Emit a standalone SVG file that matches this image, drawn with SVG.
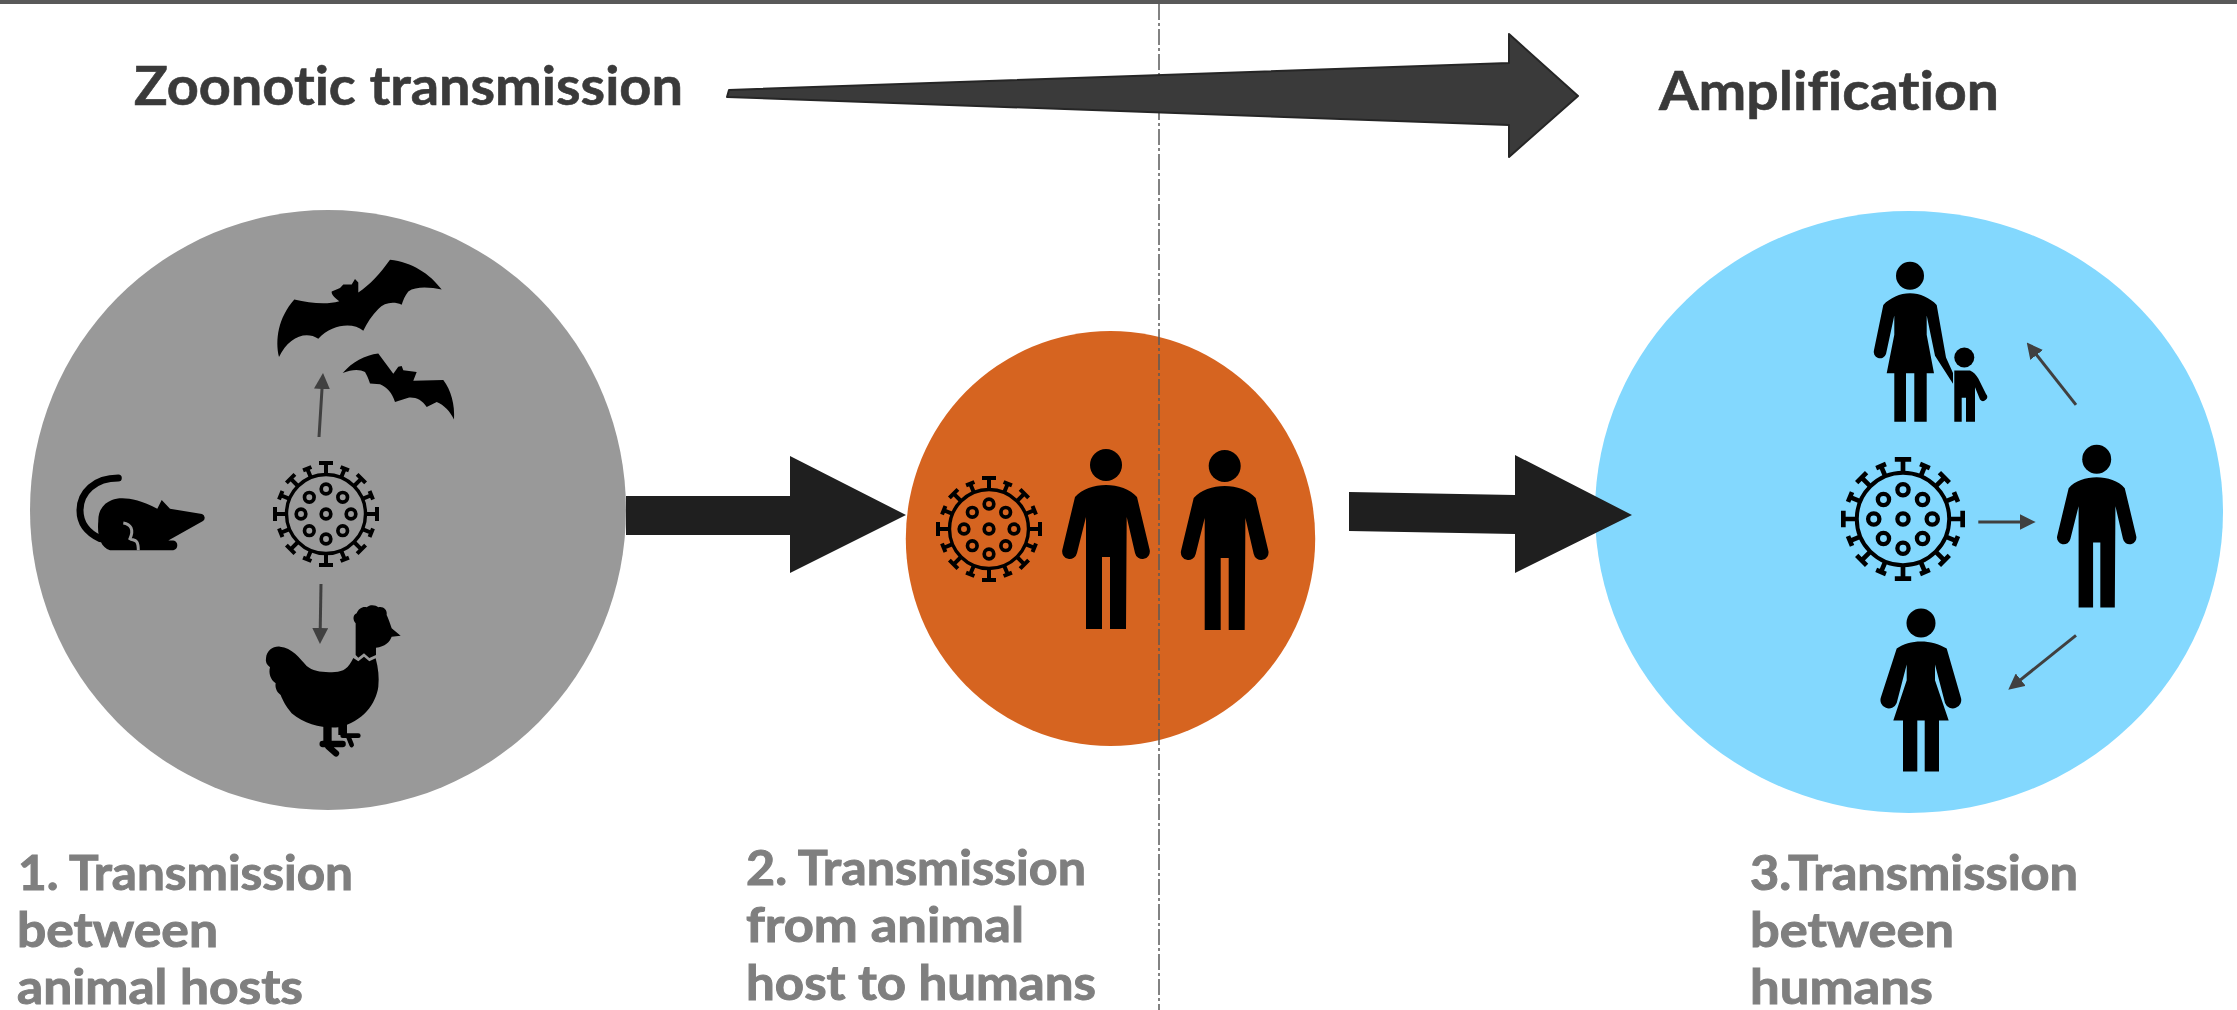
<svg xmlns="http://www.w3.org/2000/svg" width="2237" height="1010" viewBox="0 0 2237 1010">
<style>
text{font-family:"Lato","Liberation Sans",sans-serif;font-weight:700;font-variant-ligatures:none}
.head{font-size:53px;fill:#3a3a3a;stroke:#3a3a3a;stroke-width:.6px}
.lab{font-size:48px;fill:#7f7f7f;stroke:#7f7f7f;stroke-width:1px}
.thin{fill:none;stroke:#404040;stroke-width:3;marker-end:url(#tip)}
.big{fill:#1f1f1f}
.ink{fill:#000}
.vs{fill:none;stroke:#000}
</style>
<defs>
<marker id="tip" markerUnits="userSpaceOnUse" viewBox="0 0 16 16" markerWidth="16" markerHeight="16" refX="8" refY="8" orient="auto"><path d="M0,0L16,8L0,16Z" fill="#404040"/></marker>
<g id="man"><circle cx="0" cy="0" r="16"/><path d="M0,20C12,20 24,24 31,32L43.7,85A7.5,7.5 0 0 1 29,88L20.7,52L20,164H4V92H-4V164H-20V52L-29,88A7.5,7.5 0 0 1 -43.7,85L-31,32C-24,24 -12,20 0,20Z"/></g>
<g id="sp0"><path class="vs" stroke-width="4" d="M0,-40V-51M-7,-51H7"/></g>
<g id="sp1"><path class="vs" stroke-width="4" d="M0,-40V-49M-4.5,-49H4.5"/></g>
<g id="sp2"><path class="vs" stroke-width="4" d="M0,-40V-50M-6,-50H6"/></g>
<g id="vr"><circle class="vs" stroke-width="3.4" cx="0" cy="0" r="39.5"/>
<g class="vs" stroke-width="3.7"><circle cx="0" cy="0" r="4.8"/><circle cx="0" cy="-25" r="4.8"/><circle cx="0" cy="25" r="4.8"/><circle cx="-25" cy="0" r="4.8"/><circle cx="25" cy="0" r="4.8"/><circle cx="16.7" cy="-16.7" r="4.8"/><circle cx="-16.7" cy="-16.7" r="4.8"/><circle cx="16.7" cy="16.7" r="4.8"/><circle cx="-16.7" cy="16.7" r="4.8"/></g>
<use href="#sp0"/><use href="#sp0" transform="rotate(90)"/><use href="#sp0" transform="rotate(180)"/><use href="#sp0" transform="rotate(270)"/>
<use href="#sp2" transform="rotate(45)"/><use href="#sp2" transform="rotate(135)"/><use href="#sp2" transform="rotate(225)"/><use href="#sp2" transform="rotate(315)"/>
<use href="#sp1" transform="rotate(22.5)"/><use href="#sp1" transform="rotate(67.5)"/><use href="#sp1" transform="rotate(112.5)"/><use href="#sp1" transform="rotate(157.5)"/><use href="#sp1" transform="rotate(202.5)"/><use href="#sp1" transform="rotate(247.5)"/><use href="#sp1" transform="rotate(292.5)"/><use href="#sp1" transform="rotate(337.5)"/>
</g>
</defs>
<rect width="2237" height="1010" fill="#fff"/>
<rect id="top-bar" width="2237" height="4" fill="#595959"/>
<g id="circle-hosts"><ellipse cx="328" cy="510" rx="298" ry="300" fill="#999"/></g>
<g id="circle-spill"><ellipse cx="1110.5" cy="538.5" rx="204.7" ry="207.5" fill="#d66420"/></g>
<g id="circle-humans"><ellipse cx="1909" cy="512" rx="314" ry="301" fill="#83d8fe"/></g>
<line id="divider" x1="1159" y1="4" x2="1159" y2="1010" stroke="#5a5a5a" stroke-width="1.5" stroke-dasharray="16 3 3 3"/>
<g id="connectors">
<path id="taper-arrow" d="M1578,96L1509,34V63L729,90L727,97L1509,125V157Z" fill="#3a3a3a" stroke="#262626" stroke-width="2" stroke-linejoin="round"/>
<path class="big" d="M626,496H790V456L906,515L790,573V535H626Z"/>
<path class="big" d="M1349,492L1515,495V455L1632,515L1515,573V534L1349,531Z"/>
<line class="thin" x1="319" y1="437" x2="322.5" y2="381"/>
<line class="thin" x1="321" y1="584" x2="320.1" y2="636"/>
<line class="thin" x1="2076" y1="404.9" x2="2031.7" y2="348.7"/>
<line class="thin" x1="1978.3" y1="522" x2="2027.7" y2="522"/>
<line class="thin" x1="2076" y1="635.3" x2="2014.5" y2="684.7"/>
</g>
<g id="bat-large"><path class="ink" d="M390,259.8C412,262 430,274 441.7,289.6C430,287 416,286 408.3,291.4C405,296 403,300 401.7,304.7C393,301 384,303 378.3,308.9C372,315 367,323 363.3,330.7C353,322 332,324 318.3,338.7C305,330 288,338 279,357C275,340 278,318 294.3,299.5C310,303 326,305 339.3,301.2C335,298 331,294 331.7,291.4L340,287.9L343.3,284.4H351.7L355,279L358.3,282.6V292.4C370,285 380,273.8 390,259.8Z"/></g>
<g id="bat-small"><path class="ink" d="M342.7,373.1C352,362 365,355 378.3,353.5L393.3,373.8L398.3,366.8L401.7,366L403.3,370.3L416.7,372L413.3,380.8L443.3,380.1C451,390 455,405 454,419.4C450,411 444,405 436.7,401.9L426.7,407.1C422,400 416,397 408.3,397.7L395,401.9C392,393 387,387 380,384.3L370,383.6C368,377 366,374 365,372.1C360,369 352,369 342.7,373.1Z"/></g>
<g id="rat"><path d="M118.3,478C95,478 80,492 80,510.6C80,525 88,533 100,538.7" fill="none" stroke="#000" stroke-width="7" stroke-linecap="round"/>
<path class="ink" d="M98.3,521.1C98,510 104,503 112,500C120,497 135,497 157.3,508.8L161.7,500L170,508.8L202,514A4,4 0 0 1 203,521L168.3,540.4H173.3A5,5 0 0 1 173.3,550.2H110C100,547 97,535 98.3,521.1Z"/>
<path d="M123.3,522.9C131,524 134,530 130,538.7C134,541 138.3,538 138.3,550.2" fill="none" stroke="#999" stroke-width="3"/></g>
<g id="virus-hosts"><use href="#vr" transform="translate(326,514)"/></g>
<g id="chicken" transform="translate(250,590) scale(.3333)">
<path class="ink" d="M48,205C50,180 70,168 90,170C125,172 150,205 170,228C190,245 220,248 255,246C280,245 295,235 310,204L325,214L342,200L358,214L377,205C385,235 388,262 385,290C378,340 340,395 265,412C220,415 165,405 125,370C105,345 98,330 92,315C78,305 75,290 77,280C62,270 55,250 60,232C50,225 46,215 48,205Z"/>
<path class="ink" d="M317,195V100C308,90 308,75 320,70C325,55 340,48 350,52C360,42 378,45 385,52C398,48 413,58 410,75C415,85 420,100 425,115L452,137L425,140C420,155 405,170 378,173V195L358,204L342,190L325,203Z"/>
<path class="ink" d="M220,405H245V455H220ZM265,400H291V435H265Z"/>
<path d="M218,462H278M235,470L258,490" stroke="#000" stroke-width="19" stroke-linecap="round" fill="none"/>
<path d="M278,437H325M295,440L305,465" stroke="#000" stroke-width="14" stroke-linecap="round" fill="none"/>
</g>
<g id="virus-spill"><use href="#vr" transform="translate(989,529)"/></g>
<g id="person-a" class="ink"><use href="#man" transform="translate(1106,465)"/></g>
<g id="person-b" class="ink"><use href="#man" transform="translate(1224.7,466)"/></g>
<g id="mother-child" class="ink">
<circle cx="1910" cy="275.8" r="14"/>
<path d="M1910,293.3C1900,293.3 1890,298 1883.3,304.9L1874,350A6,6 0 0 0 1886,354L1894.3,315.4V334.7L1886.7,373.3H1894.3V421.7H1906V373.3H1914.3V421.7H1926.7V373.3H1934L1926.7,334.7V315.4L1935,355.7L1953,383.8L1953,373L1946,357.5L1936.7,304.9C1930,298 1920,293.3 1910,293.3Z"/>
<circle cx="1964.3" cy="357.5" r="10"/>
<path d="M1954.3,370.5H1970C1974,372 1976,375 1978.3,378.5L1986,394A3.5,3.5 0 0 1 1980,399.6L1975,387.3V421.7H1966V397.8H1961.7V421.7H1954.3Z"/>
</g>
<g id="woman" class="ink">
<circle cx="1921" cy="623" r="14.5"/>
<path d="M1921,641.6C1912,641.6 1903,644 1896.7,648.6L1881,697A8,8 0 0 0 1896.7,703L1906.7,664.4V680.2L1893.3,720.5H1903V771.4H1917.3V720.5H1924.7V771.4H1939V720.5H1948.7L1935,680.2V664.4L1945,703A8,8 0 0 0 1960.7,697L1946.7,648.6C1939,644 1930,641.6 1921,641.6Z"/>
</g>
<g id="person-c" class="ink"><use href="#man" transform="translate(2096.7,459.2) scale(.905)"/></g>
<g id="virus-humans"><use href="#vr" transform="translate(1903,519) scale(1.17)"/></g>
<g id="labels">
<text class="head" x="134" y="105" textLength="549" lengthAdjust="spacingAndGlyphs">Zoonotic transmission</text>
<text class="head" x="1659" y="110" textLength="340" lengthAdjust="spacingAndGlyphs">Amplification</text>
<text class="lab" x="18" y="890" textLength="335" lengthAdjust="spacingAndGlyphs">1. Transmission</text>
<text class="lab" x="17" y="947" textLength="201" lengthAdjust="spacingAndGlyphs">between</text>
<text class="lab" x="17" y="1004" textLength="286" lengthAdjust="spacingAndGlyphs">animal hosts</text>
<text class="lab" x="746" y="885" textLength="340" lengthAdjust="spacingAndGlyphs">2. Transmission</text>
<text class="lab" x="746" y="942" textLength="278" lengthAdjust="spacingAndGlyphs">from animal</text>
<text class="lab" x="746" y="1000" textLength="350" lengthAdjust="spacingAndGlyphs">host to humans</text>
<text class="lab" x="1750" y="890" textLength="328" lengthAdjust="spacingAndGlyphs">3.Transmission</text>
<text class="lab" x="1750" y="947" textLength="204" lengthAdjust="spacingAndGlyphs">between</text>
<text class="lab" x="1750" y="1004" textLength="183" lengthAdjust="spacingAndGlyphs">humans</text>
</g>
</svg>
